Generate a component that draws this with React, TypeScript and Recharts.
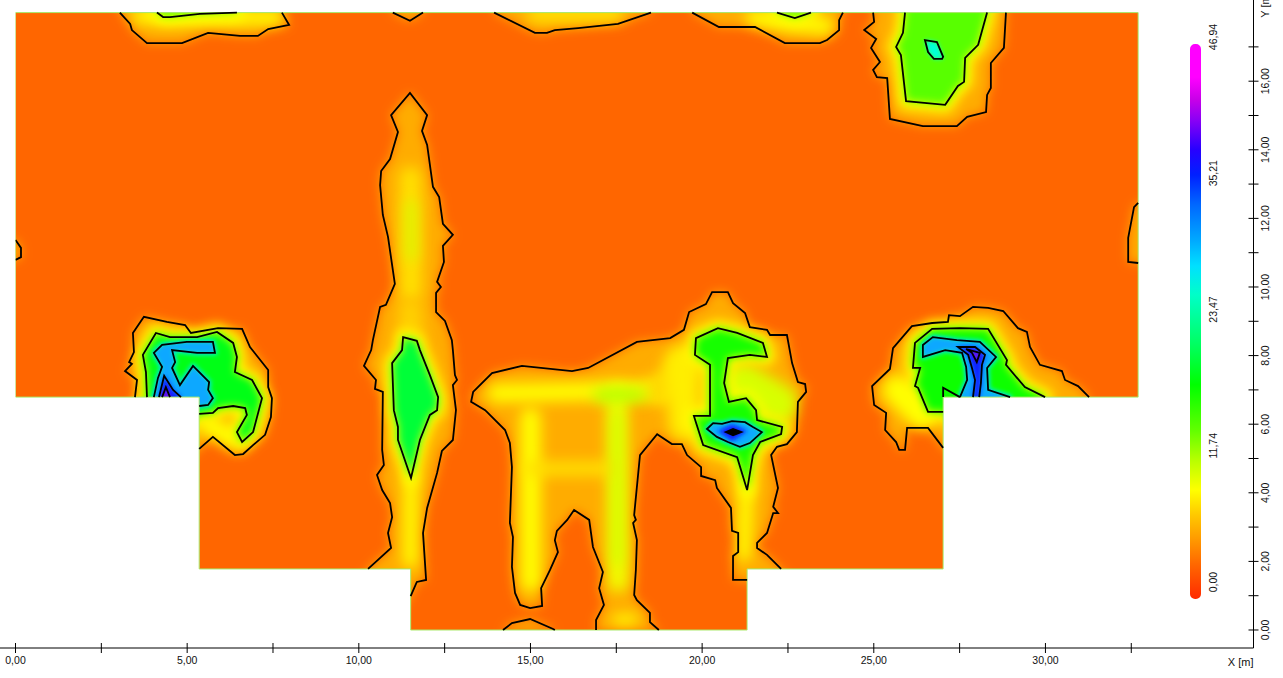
import { Bar, BarChart, Scatter, ScatterChart, XAxis, YAxis } from 'recharts';

type Pt = number[];

// contour vertices, in metres
const building: Pt[] = [[0, 18], [32.7, 18], [32.7, 6.79], [27.02, 6.79], [27.02, 1.78], [21.31, 1.78], [21.31, 0], [11.51, 0], [11.51, 1.78], [5.35, 1.78], [5.35, 6.79], [0, 6.79]];
const maskRing: Pt[] = [...building, [0, 18], [-1, 19], [-1, -0.36], [33.5, -0.36], [33.5, 19], [-1, 19]];

const outerA: Pt[] = [[3.48, 6.79], [3.54, 7.29], [3.19, 7.55], [3.39, 7.76], [3.31, 7.81], [3.45, 8.1], [3.42, 8.66], [3.74, 9.13], [4.41, 8.98], [4.94, 8.89], [5.11, 8.66], [5.9, 8.8], [6.6, 8.78], [6.83, 8.25], [7.36, 7.58], [7.36, 7.08], [7.47, 6.76], [7.44, 6.21], [7.27, 5.69], [6.92, 5.39], [6.63, 5.13], [6.39, 5.1], [5.75, 5.63], [5.35, 5.28]];
const greenA: Pt[] = [[3.83, 6.79], [3.8, 7.52], [3.71, 8.02], [4.09, 8.66], [4.5, 8.54], [5.29, 8.54], [5.87, 8.69], [6.34, 8.37], [6.45, 7.96], [6.39, 7.52], [6.89, 7.29], [7.18, 6.76], [6.92, 5.77], [6.6, 5.48], [6.45, 5.77], [6.74, 6.27], [6.69, 6.47], [6.34, 6.53], [5.9, 6.47], [5.75, 6.33], [5.35, 6.3]];
const blueA: Pt[] = [[4.03, 6.79], [4.15, 7.35], [4.27, 7.67], [4.03, 8.08], [4.27, 8.31], [4.99, 8.4], [5.75, 8.4], [5.81, 8.08], [5.29, 8.08], [4.56, 8.16], [4.65, 7.81], [4.56, 7.64], [4.79, 7.14], [5.17, 7.7], [5.64, 7.23], [5.61, 7.0], [5.75, 6.76], [5.61, 6.56], [5.35, 6.53]];
const darkA: Pt[] = [[4.18, 6.79], [4.33, 7.41], [4.59, 7.0], [4.82, 6.79]];
const coreA: Pt[] = [[4.27, 6.79], [4.38, 7.08], [4.5, 6.79]];

const outerB: Pt[] = [[10.27, 1.78], [10.94, 2.39], [10.85, 2.83], [10.97, 3.29], [10.91, 3.7], [10.68, 4.08], [10.53, 4.52], [10.73, 4.81], [10.68, 5.25], [10.7, 6.94], [10.47, 7.03], [10.5, 7.29], [10.15, 7.7], [10.36, 8.16], [10.41, 8.45], [10.62, 9.42], [10.79, 9.48], [11.05, 10.09], [10.85, 11.46], [10.7, 12.1], [10.62, 12.97], [10.65, 13.38], [10.91, 13.73], [11.14, 14.52], [10.94, 15.01], [11.49, 15.66], [11.99, 15.01], [11.84, 14.55], [11.99, 14.14], [12.16, 12.92], [12.34, 12.62], [12.45, 11.84], [12.74, 11.52], [12.45, 11.2], [12.48, 10.73], [12.28, 10.15], [12.39, 10.0], [12.25, 9.83], [12.25, 9.27], [12.51, 9.01], [12.71, 8.45], [12.74, 8.16], [12.8, 7.43], [12.86, 7.29], [12.74, 7.14], [12.83, 6.41], [12.74, 5.54], [12.42, 5.22], [12.28, 4.58], [11.99, 3.56], [11.87, 2.83], [11.96, 1.46], [11.69, 1.4], [11.51, 0.99]];
const greenB: Pt[] = [[11.29, 8.54], [11.69, 8.43], [11.78, 8.16], [12.07, 7.43], [12.31, 6.79], [12.28, 6.41], [12.07, 6.27], [11.78, 5.54], [11.52, 4.43], [11.14, 5.54], [11.14, 5.92], [11.02, 6.41], [10.97, 7.78], [11.26, 8.16]];

const outerUpper: Pt[] = [[22.3, 1.78], [21.89, 2.19], [21.6, 2.39], [21.6, 2.54], [21.89, 2.83], [22.07, 3.41], [22.21, 3.41], [22.07, 3.59], [22.21, 4.14], [22.01, 5.1], [22.18, 5.34], [22.47, 5.42], [22.76, 5.77], [22.79, 6.65], [23.03, 6.94], [23.0, 7.17], [22.79, 7.23], [22.62, 7.78], [22.47, 8.6], [21.98, 8.6], [21.89, 8.75], [21.39, 8.83], [21.25, 9.24], [20.9, 9.53], [20.75, 9.85], [20.29, 9.85], [20.11, 9.5], [19.62, 9.27], [19.47, 8.75], [19.07, 8.51], [18.1, 8.4], [16.68, 7.64], [16.21, 7.55], [14.75, 7.7], [13.88, 7.49], [13.33, 6.94], [13.27, 6.65], [13.68, 6.41], [14.26, 5.83], [14.4, 5.45], [14.46, 4.75], [14.4, 3.12], [14.49, 2.71], [14.46, 1.84], [14.55, 1.08], [14.7, 0.73], [14.99, 0.64], [15.34, 0.7], [15.31, 1.22], [15.57, 1.75], [15.8, 2.27], [15.71, 2.62], [15.77, 2.89], [16.07, 3.21], [16.27, 3.5], [16.71, 3.21], [16.82, 2.42], [17.11, 1.69], [17.0, 1.22], [17.14, 0.73], [16.91, 0.29], [16.91, 0]];
const outerLower: Pt[] = [[18.74, 0], [18.48, 0.23], [18.48, 0.5], [18.1, 0.87], [18.02, 1.02], [18.07, 1.75], [18.1, 2.62], [17.99, 3.12], [18.07, 3.21], [18.02, 3.35], [18.19, 5.1], [18.69, 5.71], [19.12, 5.42], [19.41, 5.42], [19.56, 5.1], [19.97, 4.75], [19.97, 4.49], [20.38, 4.37], [20.43, 4.14], [20.84, 3.56], [20.87, 2.89], [21.05, 2.83], [21.05, 2.27], [20.9, 2.16], [20.9, 1.46], [21.31, 1.46]];
const outerFoot: Pt[] = [[14.2, 0], [14.46, 0.2], [14.99, 0.32], [15.66, 0.03], [15.71, 0]];
const greenE: Pt[] = [[19.79, 8.02], [19.82, 8.51], [20.46, 8.8], [21.02, 8.66], [21.77, 8.37], [21.89, 7.96], [21.39, 8.02], [20.75, 7.93], [20.64, 7.2], [20.78, 6.65], [21.28, 6.76], [21.57, 6.41], [21.6, 6.12], [22.33, 5.92], [22.3, 5.71], [21.69, 5.48], [21.48, 5.1], [21.31, 4.08], [21.02, 5.04], [20.03, 5.39], [19.76, 6.24], [20.23, 6.24], [20.23, 7.73]];
const blueE: Pt[] = [[20.14, 5.86], [20.32, 6.03], [20.58, 6.01], [20.87, 6.09], [21.25, 6.06], [21.48, 5.92], [21.74, 5.77], [21.39, 5.45], [21.1, 5.34], [20.75, 5.48], [20.43, 5.63]];
const deepE: Pt[] = [[20.46, 5.8], [20.87, 6.0], [21.31, 5.8], [20.87, 5.5]];
const coreE: Pt[] = [[20.69, 5.77], [20.9, 5.86], [21.14, 5.77], [20.9, 5.68]];

const outerF: Pt[] = [[27.02, 5.31], [26.58, 5.89], [25.97, 5.89], [25.91, 5.25], [25.74, 5.25], [25.65, 5.48], [25.33, 5.83], [25.36, 6.33], [25.01, 6.56], [24.95, 7.11], [25.47, 7.61], [25.56, 8.22], [26.11, 8.86], [26.7, 8.95], [27.16, 8.98], [27.19, 9.18], [27.51, 9.15], [27.89, 9.42], [28.33, 9.39], [28.77, 9.3], [29.2, 8.8], [29.46, 8.69], [29.55, 8.25], [29.84, 7.73], [30.48, 7.55], [30.57, 7.29], [30.95, 7.11], [31.27, 6.79]];
const greenF: Pt[] = [[27.02, 6.36], [26.58, 6.36], [26.29, 7.06], [26.2, 7.11], [26.35, 7.64], [26.14, 7.64], [26.2, 8.37], [26.7, 8.78], [27.51, 8.8], [28.33, 8.78], [28.88, 7.87], [28.85, 7.73], [29.4, 7.08], [29.99, 6.79]];
const notchF: Pt[] = [[27.02, 6.79], [27.02, 7.06], [27.51, 6.79]];
const blueF: Pt[] = [[27.51, 6.79], [27.72, 7.29], [27.69, 7.67], [27.57, 8.08], [27.08, 8.16], [26.43, 7.96], [26.43, 8.31], [26.72, 8.54], [27.42, 8.45], [28.09, 8.4], [28.56, 7.96], [28.3, 7.64], [28.33, 7.0], [28.97, 6.79]];
const darkF: Pt[] = [[27.89, 6.79], [27.95, 7.29], [27.86, 7.64], [27.75, 8.02], [27.45, 8.25], [27.95, 8.25], [28.24, 8.02], [28.15, 7.73], [28.12, 7.2], [28.07, 6.79]];
const coreF: Pt[] = [[27.69, 8.19], [28.09, 8.08], [28.0, 7.81], [27.86, 8.08]];

const outerG: Pt[] = [[24.98, 18], [25.01, 17.73], [24.72, 17.49], [25.07, 17.23], [24.92, 16.97], [25.18, 16.56], [24.98, 16.33], [25.09, 16.12], [25.39, 16.09], [25.47, 14.9], [26.43, 14.69], [27.42, 14.69], [27.72, 14.96], [28.27, 15.1], [28.3, 15.6], [28.41, 15.8], [28.41, 16.53], [28.79, 16.97], [28.85, 18]];
const greenG: Pt[] = [[25.91, 18], [25.85, 17.41], [25.65, 17.0], [25.79, 16.76], [25.94, 15.42], [27.08, 15.31], [27.45, 15.86], [27.63, 15.98], [27.66, 16.68], [28.04, 17.06], [28.3, 18]];
const cyanG: Pt[] = [[26.49, 17.2], [26.84, 17.14], [27.02, 16.71], [26.99, 16.65], [26.75, 16.65], [26.58, 16.85]];

const outerH: Pt[] = [[3.04, 18], [3.34, 17.67], [3.39, 17.49], [3.83, 17.11], [4.85, 17.11], [5.61, 17.41], [6.54, 17.32], [7.06, 17.32], [7.36, 17.52], [7.97, 17.64], [7.76, 18]];
const greenH: Pt[] = [[4.12, 18], [4.3, 17.87], [4.5, 17.87], [5.37, 17.96], [6.45, 18]];
const outerSmall: Pt[] = [[10.99, 18], [11.49, 17.76], [11.87, 18]];
const outerI: Pt[] = [[13.94, 18], [15.13, 17.41], [15.48, 17.41], [15.71, 17.49], [16.39, 17.55], [17.55, 17.67], [18.51, 18]];
const outerJ: Pt[] = [[19.71, 18], [20.49, 17.58], [21.54, 17.58], [22.41, 17.11], [23.43, 17.11], [23.64, 17.2], [23.99, 17.49], [23.99, 17.78], [24.1, 18]];
const greenJ: Pt[] = [[22.18, 18], [22.7, 17.84], [23.17, 18]];
const outerK: Pt[] = [[32.7, 12.45], [32.58, 12.33], [32.41, 11.43], [32.41, 10.73], [32.7, 10.7]];
const outerL: Pt[] = [[0, 11.37], [0.16, 11.14], [0.16, 10.87], [0, 10.79]];

const capTop = (pts: Pt[]): Pt[] => [...pts, [pts[pts.length - 1][0], 18.3], [pts[0][0], 18.3]];

const warmRegions: Pt[][] = [
  [...outerA, [4.5, 4.5], [3.0, 6.0]],
  [...outerB, [11.2, 0.5], [10.0, 1.2]],
  [...outerUpper, [16.91, -0.05], [18.74, -0.05], ...outerLower, [21.7, 1.2], [22.6, 1.4]],
  [...outerFoot, [15.71, -0.05], [14.2, -0.05]],
  [...outerF, [31.0, 5.8], [27.5, 5.0]],
  capTop(outerG), capTop(outerH), capTop(outerSmall), capTop(outerI), capTop(outerJ),
  [...outerK, [32.95, 10.7], [32.95, 12.45]],
  [...outerL, [-0.5, 10.79], [-0.5, 11.37]],
];

// lighter ridges inside the warm areas: colour, width, points
const ridgeColors = ['#ffe000', '#d8f800', '#ffd000', '#ffff00', '#ffff00', '#ffd800', '#ffff00', '#f0ff00', '#ffe000', '#b0ff00', '#c8ff00', '#ffff00', '#ffee00', '#d8ff00', '#ffff00', '#ffff00', '#ffff00', '#ffff00', '#ffe800', '#ffff00'];
const ridgeWidths = [22, 10, 24, 14, 18, 30, 20, 20, 14, 12, 8, 10, 32, 40, 14, 30, 20, 14, 14, 16];
const ridgeLines: Pt[][] = [
  [[11.5, 13.2], [11.52, 9.9]], [[11.52, 12.4], [11.53, 10.9]], [[11.5, 9.3], [11.52, 8.7]], [[11.52, 4.4], [11.5, 2.0]],
  [[14.0, 6.9], [18.8, 7.0]], [[18.8, 7.0], [19.6, 7.8]], [[15.0, 6.2], [15.01, 1.4]], [[17.52, 6.9], [17.55, 1.4]],
  [[15.0, 4.7], [17.3, 4.71]], [[17.0, 6.85], [18.2, 6.86]], [[17.52, 6.3], [17.53, 2.0]], [[17.5, 0.3], [18.0, 0.31]],
  [[19.5, 6.0], [19.4, 7.8]], [[21.2, 7.2], [22.2, 6.6]], [[21.3, 4.2], [21.2, 2.2]], [[25.7, 7.0], [26.4, 6.3]],
  [[5.6, 6.0], [6.3, 5.6]], [[3.6, 17.9], [7.6, 17.85]], [[15.1, 17.95], [17.5, 17.96]], [[21.5, 17.85], [23.6, 17.6]],
];

const greenRegions: Pt[][] = [
  [...greenA, [4.5, 5.5], [3.5, 6.0]],
  greenB,
  greenE,
  [...greenF, [29.5, 6.2], [27.5, 6.0]],
  capTop(greenG), capTop(greenH), capTop(greenJ),
];
const greenColors = ['#00ff18', '#00ff38', '#18ff00', '#08ff00', '#58ff00', '#70ff00', '#70ff00'];
const cyanRegions: Pt[][] = [cyanG];
const blueRegions: Pt[][] = [
  [...blueA, [4.7, 6.0], [3.9, 6.2]],
  blueE,
  [...blueF, [28.8, 6.4], [27.7, 6.4]],
];
const deepRegions: Pt[][] = [
  [...darkA, [4.5, 6.3]],
  deepE,
  [...darkF, [28.07, 6.5], [27.89, 6.5]],
];
const violetRegions: Pt[][] = [[...coreA, [4.4, 6.4]], coreF];

const blackOpen: Pt[][] = [outerA, greenA, blueA, darkA, coreA, outerB, outerUpper, outerLower, outerFoot, outerF, greenF, notchF, blueF, darkF, outerG, greenG, outerH, greenH, outerSmall, outerI, outerJ, greenJ, outerK, outerL];
const blackClosed: Pt[][] = [greenB, greenE, blueE, coreE, coreF, cyanG];

const xTicks = [0, 2.5, 5, 7.5, 10, 12.5, 15, 17.5, 20, 22.5, 25, 27.5, 30, 32.5];
const yTicks = [0, 1, 2, 3, 4, 5, 6, 7, 8, 9, 10, 11, 12, 13, 14, 15, 16, 17];
const legendTicks = [0, 11.74, 23.47, 35.21, 46.94];
const legendBar = [{ name: 'scale', extent: [-1.46, 46.34] }];
const legendOffsets = [0, 0.06, 0.1, 0.137, 0.19, 0.236, 0.29, 0.353, 0.4, 0.452, 0.542, 0.614, 0.695, 0.75, 0.804, 0.849, 0.894, 0.939, 1];
const legendColors = ['#ff00ff', '#ff00ff', '#c800e8', '#8a00f5', '#2800ff', '#0020ff', '#0068ff', '#00a8ff', '#00e0ff', '#00ffc8', '#00ff60', '#00ff00', '#60ff00', '#b8ff00', '#ffff00', '#ffc800', '#ff9800', '#ff6600', '#ff2a00'];

const fontFamily = '"Liberation Sans", Arial, sans-serif';
const label = (v: number) => v.toFixed(2).replace('.', ',');
const noMark = () => <g />;

const region = (key: string, pts: Pt[], style: any, closed = true) => (
  <Scatter
    key={key}
    data={pts.map(([x, y]) => ({ x, y }))}
    line={style}
    lineType="joint"
    lineJointType={closed ? 'linearClosed' : 'linear'}
    shape={noMark}
    legendType="none"
    isAnimationActive={false}
  />
);

const fillStyle = (fill: string, filter: string) => ({ fill, stroke: 'none', filter: `url(#${filter})` });
const haloStyle = (color: string, width: number, filter: string) => ({ fill: color, stroke: color, strokeWidth: width, strokeLinejoin: 'round', filter: `url(#${filter})` });

function XTick({ x, y, payload }: any) {
  const v = payload.value;
  return (
    <g>
      {v === 0 && <line x1={x - 16} x2={x} y1={y} y2={y} stroke="#000" />}
      <line x1={x} x2={x} y1={y - 5} y2={y + 5} stroke="#000" />
      {v % 5 === 0 && (
        <text x={x} y={y + 16} textAnchor="middle" fontSize={10.5} fontFamily={fontFamily} fill="#111">
          {label(v)}
        </text>
      )}
    </g>
  );
}

function YTick({ x, y, payload }: any) {
  const v = payload.value;
  return (
    <g>
      <line x1={x - 5} x2={x + 5} y1={y} y2={y} stroke="#000" />
      {v % 2 === 0 && (
        <text x={x + 16} y={y} transform={`rotate(-90 ${x + 16} ${y})`} textAnchor="middle" fontSize={10.5} fontFamily={fontFamily} fill="#111">
          {label(v)}
        </text>
      )}
    </g>
  );
}

function LegendTick({ x, y, payload }: any) {
  return (
    <text x={x + 16.5} y={y} transform={`rotate(-90 ${x + 16.5} ${y})`} textAnchor="middle" fontSize={10.5} fontFamily={fontFamily} fill="#111">
      {label(payload.value)}
    </text>
  );
}

export default function App() {
  return (
    <div style={{ position: 'absolute', left: 0, top: 0, width: 1283, height: 678, background: '#fff', overflow: 'hidden' }}>
      <ScatterChart width={1283} height={678} margin={{ top: 0, right: 0, bottom: 0, left: 15.5 }}>
        <defs>
          <filter id="blurX" filterUnits="userSpaceOnUse" x="0" y="-30" width="1283" height="740"><feGaussianBlur stdDeviation="7" /></filter>
          <filter id="blurL" filterUnits="userSpaceOnUse" x="0" y="-30" width="1283" height="740"><feGaussianBlur stdDeviation="5.5" /></filter>
          <filter id="blurM" filterUnits="userSpaceOnUse" x="0" y="-30" width="1283" height="740"><feGaussianBlur stdDeviation="4" /></filter>
          <filter id="blurS" filterUnits="userSpaceOnUse" x="0" y="-30" width="1283" height="740"><feGaussianBlur stdDeviation="2.2" /></filter>
        </defs>
        <XAxis
          type="number"
          dataKey="x"
          domain={[0, 36.06]}
          allowDataOverflow
          ticks={xTicks}
          interval={0}
          height={30}
          tick={XTick}
          tickLine={false}
          tickSize={0}
          tickMargin={0}
          axisLine={{ stroke: '#000' }}
          label={{ value: 'X [m]', position: 'insideBottomRight', offset: 0, dy: -12, fontSize: 11, fontFamily, fill: '#111' }}
        />
        <YAxis
          type="number"
          dataKey="y"
          orientation="right"
          domain={[-0.525, 18.367]}
          allowDataOverflow
          ticks={yTicks}
          interval={0}
          width={29.5}
          tick={YTick}
          tickLine={false}
          tickSize={0}
          tickMargin={0}
          axisLine={{ stroke: '#000' }}
          label={{ value: 'Y [m]', position: 'insideTop', angle: -90, offset: 5, dx: -7, fontSize: 11, fontFamily, fill: '#111' }}
        />
        {region('base', building, { fill: '#ff6600', stroke: 'none' })}
        {warmRegions.map((r, i) => region(`warm${i}`, r, fillStyle('#ffac00', 'blurL')))}
        {ridgeLines.map((r, i) => region(`ridge${i}`, r, { fill: 'none', stroke: ridgeColors[i], strokeWidth: ridgeWidths[i], strokeLinecap: 'round', filter: 'url(#blurX)' }, false))}
        {greenRegions.map((r, i) => region(`halo${i}`, r, haloStyle('#ffff00', 16, 'blurL')))}
        {greenRegions.map((r, i) => region(`green${i}`, r, fillStyle(greenColors[i], 'blurM')))}
        {cyanRegions.map((r, i) => region(`cyan${i}`, r, fillStyle('#00ffd8', 'blurS')))}
        {blueRegions.map((r, i) => region(`bluehalo${i}`, r, haloStyle('#00ffa0', 5, 'blurS')))}
        {blueRegions.map((r, i) => region(`blue${i}`, r, fillStyle('#10a8ff', 'blurS')))}
        {deepRegions.map((r, i) => region(`deep${i}`, r, fillStyle('#0820ff', 'blurS')))}
        {violetRegions.map((r, i) => region(`violet${i}`, r, fillStyle('#7a10e8', 'blurS')))}
        {region('coreBlack', coreE, { fill: '#000', stroke: 'none' })}
        {region('mask', maskRing, { fill: '#fff', stroke: 'none' })}
        {region('edge', building, { fill: 'none', stroke: '#a8e868', strokeWidth: 1 })}
        {blackOpen.map((r, i) => region(`line${i}`, r, { fill: 'none', stroke: '#000', strokeWidth: 1.8 }, false))}
        {blackClosed.map((r, i) => region(`ring${i}`, r, { fill: 'none', stroke: '#000', strokeWidth: 1.8 }))}
      </ScatterChart>
      <div style={{ position: 'absolute', left: 1190, top: 17 }}>
        <BarChart width={41} height={582} data={legendBar} margin={{ top: 20, right: 0, bottom: 0, left: 0 }} barCategoryGap={0}>
          <defs>
            <linearGradient id="legendFill" x1="0" y1="0" x2="0" y2="1">
              {legendOffsets.map((o, i) => (
                <stop key={o} offset={o} stopColor={legendColors[i]} />
              ))}
            </linearGradient>
          </defs>
          <XAxis dataKey="name" hide />
          <YAxis
            type="number"
            orientation="right"
            domain={[-1.46, 46.94]}
            allowDataOverflow
            ticks={legendTicks}
            interval={0}
            width={30.3}
            tick={LegendTick}
            tickLine={false}
            tickSize={0}
            tickMargin={0}
            axisLine={false}
          />
          <Bar dataKey="extent" fill="url(#legendFill)" radius={5} isAnimationActive={false} />
        </BarChart>
      </div>
    </div>
  );
}
